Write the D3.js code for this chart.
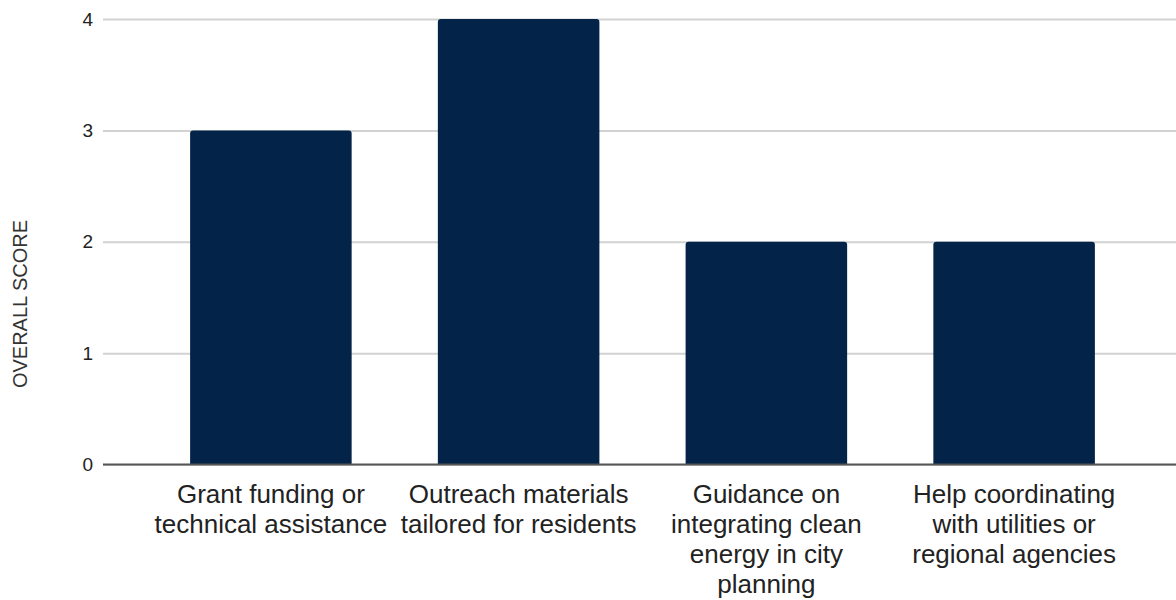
<!DOCTYPE html>
<html>
<head>
<meta charset="utf-8">
<script src="https://cdn.jsdelivr.net/npm/d3@7"></script>
<style>
  html, body { margin: 0; padding: 0; background: #ffffff; }
  svg { display: block; font-family: "Liberation Sans", Arial, sans-serif; }
</style>
</head>
<body>
<svg id="chart" width="1176" height="600"></svg>
<script>
// Categories, wrapped into the lines shown under each bar
const categories = [
  "Grant funding or technical assistance",
  "Outreach materials tailored for residents",
  "Guidance on integrating clean energy in city planning",
  "Help coordinating with utilities or regional agencies"
];
const categoryLines = [
  ["Grant funding or", "technical assistance"],
  ["Outreach materials", "tailored for residents"],
  ["Guidance on", "integrating clean", "energy in city", "planning"],
  ["Help coordinating", "with utilities or", "regional agencies"]
];
const scores = [3, 4, 2, 2];
const yTicks = [0, 1, 2, 3, 4];
const yTitle = "OVERALL SCORE";

const svg = d3.select("#chart");
const W = 1176;
const plotLeft = 103, plotTop = 19, plotBottom = 464.5;
const FONT = "'Liberation Sans', Arial, sans-serif";

const x = d3.scaleBand()
  .domain(categories)
  .range([147, 1138])
  .paddingInner(0.348)
  .paddingOuter(0.174);

const y = d3.scaleLinear()
  .domain([0, 4])
  .range([plotBottom, plotTop]);

// Horizontal gridlines
const yAxis = d3.axisLeft(y)
  .tickValues(yTicks)
  .tickFormat(d3.format("d"))
  .tickSize(-(W - plotLeft))
  .tickPadding(10);

const gy = svg.append("g")
  .attr("transform", `translate(${plotLeft},0)`)
  .call(yAxis);
gy.select(".domain").remove();
gy.selectAll(".tick line")
  .attr("stroke", "#d2d2d2")
  .attr("stroke-width", 2);
gy.selectAll(".tick text")
  .attr("fill", "#222")
  .attr("font-size", 19)
  .attr("font-family", FONT);

// Bars with slightly rounded top corners
const r = 3;
function barPath(d, i) {
  const x0 = x(categories[i]);
  const w = x.bandwidth();
  const yTop = y(d);
  const yBot = y(0);
  return `M${x0},${yBot}` +
    `V${yTop + r}Q${x0},${yTop} ${x0 + r},${yTop}` +
    `H${x0 + w - r}Q${x0 + w},${yTop} ${x0 + w},${yTop + r}` +
    `V${yBot}Z`;
}
svg.append("g")
  .selectAll("path")
  .data(scores)
  .join("path")
  .attr("d", barPath)
  .attr("fill", "#032348");

// Baseline
svg.append("line")
  .attr("x1", plotLeft).attr("x2", W)
  .attr("y1", y(0)).attr("y2", y(0))
  .attr("stroke", "#555")
  .attr("stroke-width", 2);

// Category labels
const xAxis = d3.axisBottom(x).tickSize(0).tickFormat("");
const gx = svg.append("g")
  .attr("transform", `translate(0,${y(0)})`)
  .call(xAxis);
gx.select(".domain").remove();
gx.selectAll(".tick").each(function(d, i) {
  const t = d3.select(this).append("text")
    .attr("text-anchor", "middle")
    .attr("fill", "#222")
    .attr("font-size", 26)
    .attr("font-family", FONT);
  categoryLines[i].forEach((line, k) => {
    t.append("tspan")
      .attr("x", 0)
      .attr("y", 38 + k * 30)
      .text(line);
  });
});

// Y axis title
svg.append("text")
  .attr("transform", `translate(27,304) rotate(-90)`)
  .attr("text-anchor", "middle")
  .attr("fill", "#333")
  .attr("font-size", 20)
  .attr("font-family", FONT)
  .text(yTitle);
</script>
</body>
</html>
